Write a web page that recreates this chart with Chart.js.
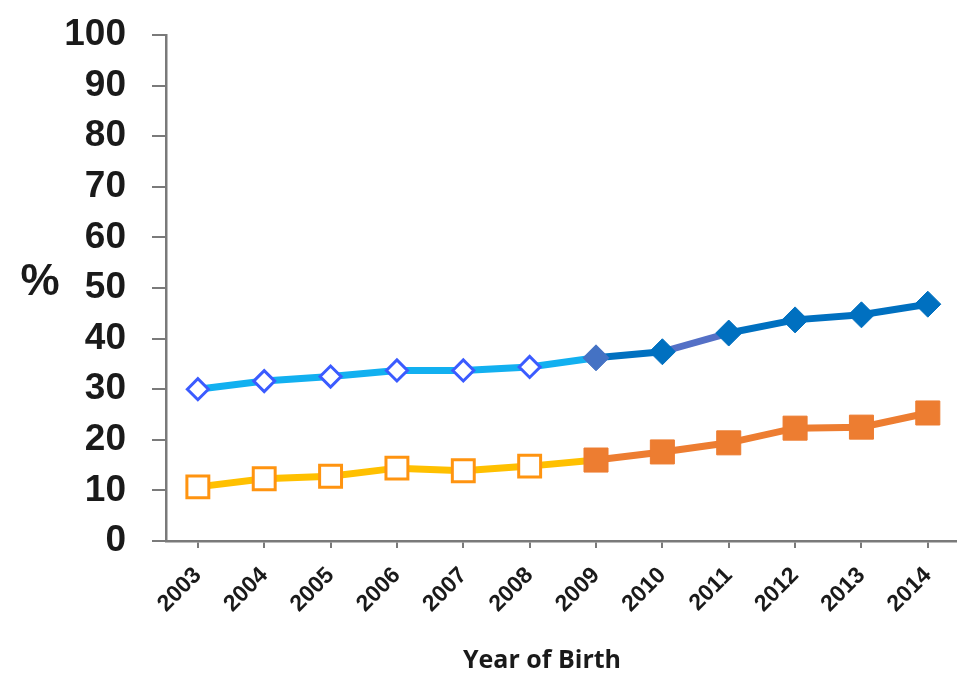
<!DOCTYPE html>
<html>
<head>
<meta charset="utf-8">
<script src="https://cdn.jsdelivr.net/npm/chart.js@4"></script>
<style>
  html, body { margin: 0; padding: 0; background: #fff; overflow: hidden; }
  canvas { display: block; }
</style>
</head>
<body>
<canvas id="chart" width="957" height="676"></canvas>
<script>
// Data
const years = [2003, 2004, 2005, 2006, 2007, 2008, 2009, 2010, 2011, 2012, 2013, 2014];
const blueValues = [30.0, 31.6, 32.5, 33.7, 33.7, 34.4, 36.2, 37.4, 41.1, 43.7, 44.7, 46.8];
const orangeValues = [10.7, 12.3, 12.8, 14.4, 13.9, 14.8, 16.0, 17.6, 19.4, 22.3, 22.5, 25.3];
const yMin = 0;
const yMax = 100;
const yStep = 10;

// from 2009 on the markers are filled
const firstFilled = 6;

const AXIS_GREY = '#7a7a7a';
const TEXT = '#1a1a1a';

function toPoints(values) {
  return values.map((v, i) => ({ x: years[i], y: v }));
}

function noPadding(s) {
  s.paddingLeft = 0;
  s.paddingRight = 0;
  s.paddingTop = 0;
  s.paddingBottom = 0;
}

// "%" stays upright left of the y ticks, x title sits a bit left of centre
const axisLabels = {
  id: 'axisLabels',
  afterDraw(chart) {
    const ctx = chart.ctx;
    const y = chart.scales.y.getPixelForValue(50) - 5;
    ctx.save();
    ctx.fillStyle = TEXT;
    ctx.textAlign = 'center';
    ctx.textBaseline = 'middle';
    ctx.font = 'bold 44px "Liberation Sans", Arial, sans-serif';
    ctx.fillText('%', 40, y);
    ctx.textBaseline = 'alphabetic';
    ctx.font = 'bold 25px "Open Sans", sans-serif';
    ctx.fillText('Year of Birth', 542, 668);
    ctx.restore();
  }
};

const idx = years.map((y, i) => i);

new Chart(document.getElementById('chart'), {
  type: 'line',
  data: {
    datasets: [
      {
        label: 'Blue',
        data: toPoints(blueValues),
        borderWidth: 7,
        borderColor: '#0070C0',
        segment: {
          borderColor: ctx => ctx.p0DataIndex < firstFilled ? '#12B0F0'
            : (ctx.p0DataIndex === firstFilled + 1 ? '#5470C6' : '#0070C0')
        },
        pointStyle: 'rectRot',
        pointRadius: idx.map(i => i < firstFilled ? 10.5 : 13),
        pointBorderWidth: idx.map(i => i < firstFilled ? 3 : 1),
        pointBorderColor: idx.map(i => i < firstFilled ? '#3B5BFF' : (i === firstFilled ? '#4472C4' : '#0070C0')),
        pointBackgroundColor: idx.map(i => i < firstFilled ? '#ffffff' : (i === firstFilled ? '#4472C4' : '#0070C0'))
      },
      {
        label: 'Orange',
        data: toPoints(orangeValues),
        borderWidth: 7,
        borderColor: '#ED7D31',
        segment: {
          borderColor: ctx => ctx.p0DataIndex < firstFilled ? '#FFC000' : '#ED7D31'
        },
        pointStyle: 'rect',
        pointRadius: idx.map(i => i < firstFilled ? 15.5 : 17),
        pointBorderWidth: idx.map(i => i < firstFilled ? 3 : 1),
        pointBorderColor: idx.map(i => i < firstFilled ? '#FF9410' : '#ED7D31'),
        pointBackgroundColor: idx.map(i => i < firstFilled ? '#ffffff' : '#ED7D31')
      }
    ]
  },
  options: {
    responsive: false,
    animation: false,
    // no auto padding for the big markers, the x axis runs to the right edge
    layout: { autoPadding: false, padding: { left: 0, right: 0, top: 35, bottom: 0 } },
    elements: { line: { tension: 0 } },
    plugins: {
      legend: { display: false },
      title: { display: false },
      tooltip: { enabled: false }
    },
    scales: {
      x: {
        type: 'linear',
        min: 2002.52,
        max: 2014.44,
        grid: { drawOnChartArea: false, drawTicks: true, tickLength: 7, color: AXIS_GREY, lineWidth: 2 },
        border: { color: AXIS_GREY, width: 2.5 },
        ticks: {
          stepSize: 1,
          includeBounds: false,
          autoSkip: false,
          minRotation: 45,
          maxRotation: 45,
          padding: 14,
          color: TEXT,
          font: { family: '"Liberation Sans", Arial, sans-serif', size: 23, weight: 'bold' },
          callback: v => String(v)
        },
        afterFit: s => { s.height = 135; noPadding(s); }
      },
      y: {
        min: yMin,
        max: yMax,
        grid: { drawOnChartArea: false, drawTicks: true, tickLength: 14, color: AXIS_GREY, lineWidth: 2 },
        border: { color: AXIS_GREY, width: 2.5 },
        ticks: {
          stepSize: yStep,
          padding: 26,
          color: TEXT,
          font: { family: '"Liberation Sans", Arial, sans-serif', size: 37, weight: 'bold' }
        },
        afterFit: s => { s.width = 166; noPadding(s); }
      }
    }
  },
  plugins: [axisLabels]
});
</script>
</body>
</html>
